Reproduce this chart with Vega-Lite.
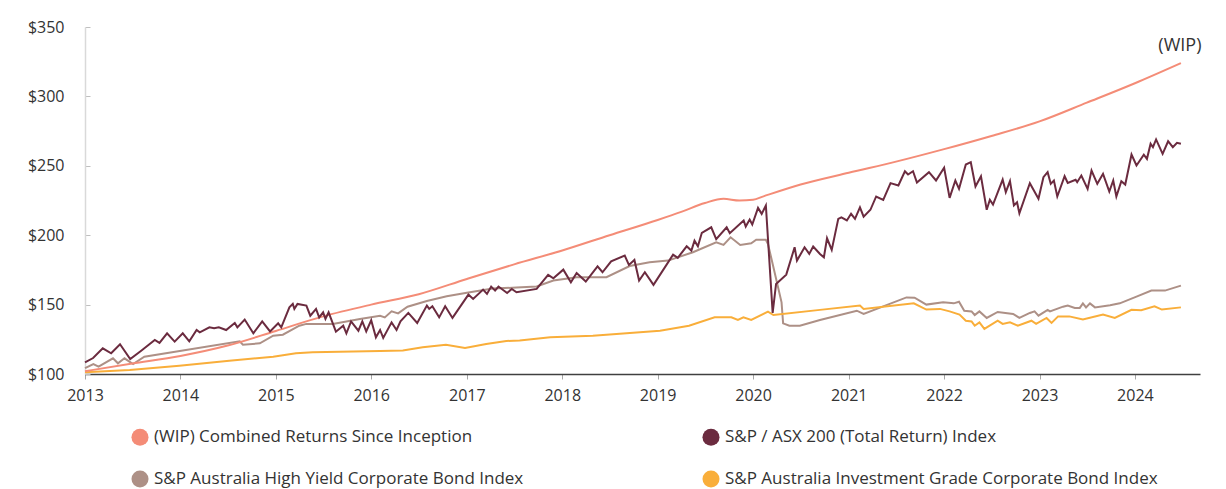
{
  "$schema": "https://vega.github.io/schema/vega-lite/v6.json",
  "width": 1115,
  "height": 347,
  "autosize": {"type": "none"},
  "padding": {"left": 85, "top": 27, "right": 26, "bottom": 115},
  "background": "white",
  "config": {
    "font": "Open Sans",
    "view": {"stroke": null},
    "axis": {"labelFont": "Open Sans", "labelFontSize": 16, "labelColor": "#333333", "grid": false, "title": null},
    "legend": {"labelFont": "Open Sans", "labelFontSize": 17, "labelColor": "#333333"}
  },
  "layer": [
    {
      "data": {"values": [
        {"date": "2013-01-01", "value": 104.3}, {"date": "2013-02-02", "value": 107.2}, {"date": "2013-02-22", "value": 105.3},
        {"date": "2013-04-18", "value": 111.3}, {"date": "2013-05-07", "value": 107.7}, {"date": "2013-06-01", "value": 111.3},
        {"date": "2013-07-04", "value": 107.2}, {"date": "2013-08-16", "value": 112.5}, {"date": "2014-08-16", "value": 123.5},
        {"date": "2014-08-28", "value": 121.1}, {"date": "2014-11-01", "value": 122.1}, {"date": "2014-12-22", "value": 127.6},
        {"date": "2015-01-28", "value": 128.3}, {"date": "2015-04-01", "value": 134.8}, {"date": "2015-04-28", "value": 136.1},
        {"date": "2015-08-07", "value": 136.1}, {"date": "2015-11-19", "value": 139.7}, {"date": "2016-02-04", "value": 142.0},
        {"date": "2016-02-22", "value": 140.8}, {"date": "2016-03-19", "value": 145.2}, {"date": "2016-04-13", "value": 143.7},
        {"date": "2016-05-19", "value": 148.5}, {"date": "2016-08-01", "value": 152.6}, {"date": "2016-10-16", "value": 156.0},
        {"date": "2017-01-01", "value": 158.6}, {"date": "2017-04-10", "value": 161.6}, {"date": "2017-07-10", "value": 162.3},
        {"date": "2017-09-25", "value": 163.0}, {"date": "2017-11-28", "value": 167.3}, {"date": "2018-02-25", "value": 169.7},
        {"date": "2018-06-19", "value": 169.7}, {"date": "2018-09-16", "value": 177.8}, {"date": "2018-12-01", "value": 180.5},
        {"date": "2019-02-10", "value": 181.7}, {"date": "2019-05-16", "value": 187.7}, {"date": "2019-08-13", "value": 194.9},
        {"date": "2019-09-10", "value": 193.0}, {"date": "2019-10-07", "value": 198.5}, {"date": "2019-11-13", "value": 193.0},
        {"date": "2019-12-25", "value": 194.2}, {"date": "2020-01-13", "value": 196.8}, {"date": "2020-02-19", "value": 196.7},
        {"date": "2020-02-27", "value": 193.7}, {"date": "2020-03-16", "value": 179.3}, {"date": "2020-04-19", "value": 151.6},
        {"date": "2020-04-25", "value": 136.5}, {"date": "2020-05-19", "value": 134.8}, {"date": "2020-06-28", "value": 134.8},
        {"date": "2020-09-13", "value": 138.9}, {"date": "2021-02-01", "value": 145.6}, {"date": "2021-02-27", "value": 143.3},
        {"date": "2021-08-10", "value": 155.2}, {"date": "2021-09-10", "value": 155.0}, {"date": "2021-10-25", "value": 150.0},
        {"date": "2021-12-28", "value": 151.6}, {"date": "2022-02-07", "value": 150.9}, {"date": "2022-02-27", "value": 152.1},
        {"date": "2022-03-19", "value": 145.6}, {"date": "2022-04-16", "value": 145.1}, {"date": "2022-04-28", "value": 142.5},
        {"date": "2022-05-16", "value": 145.1}, {"date": "2022-06-13", "value": 140.4}, {"date": "2022-07-25", "value": 144.7},
        {"date": "2022-09-22", "value": 143.3}, {"date": "2022-10-16", "value": 140.4}, {"date": "2022-11-25", "value": 144.0},
        {"date": "2022-12-13", "value": 145.1}, {"date": "2022-12-28", "value": 142.0}, {"date": "2023-02-01", "value": 146.2},
        {"date": "2023-02-10", "value": 145.1}, {"date": "2023-04-01", "value": 148.5}, {"date": "2023-04-19", "value": 149.3},
        {"date": "2023-05-16", "value": 147.6}, {"date": "2023-06-04", "value": 147.6}, {"date": "2023-06-16", "value": 150.9},
        {"date": "2023-06-28", "value": 148.0}, {"date": "2023-07-13", "value": 150.9}, {"date": "2023-08-01", "value": 148.0},
        {"date": "2023-09-28", "value": 149.5}, {"date": "2023-11-04", "value": 150.9}, {"date": "2024-01-07", "value": 155.7},
        {"date": "2024-03-04", "value": 160.1}, {"date": "2024-04-25", "value": 160.1}, {"date": "2024-06-25", "value": 163.7}
      ]},
      "mark": {"type": "line", "strokeWidth": 2},
      "encoding": {
        "x": {"field": "date", "type": "temporal",
          "scale": {"type": "utc", "domain": [{"year": 2013, "month": 1, "date": 1, "utc": true}, {"year": 2024, "month": 9, "date": 6, "utc": true}], "nice": false},
          "axis": {"format": "%Y", "tickCount": {"interval": "year", "step": 1}, "domainColor": "#404040", "domainWidth": 1.5, "tickColor": "#a6a6a6", "tickSize": 5, "labelPadding": 8, "labelFlush": false}},
        "y": {"field": "value", "type": "quantitative",
          "scale": {"domain": [100, 350], "nice": false, "zero": false},
          "axis": {"values": [100, 150, 200, 250, 300, 350], "format": "$d", "domainColor": "#d9d9d9", "domainWidth": 1.5, "tickColor": "#bfbfbf", "tickSize": -5, "labelPadding": 26}},
        "color": {"datum": "S&P Australia High Yield Corporate Bond Index", "type": "nominal",
          "scale": {"domain": ["(WIP) Combined Returns Since Inception", "S&P / ASX 200 (Total Return) Index", "S&P Australia High Yield Corporate Bond Index", "S&P Australia Investment Grade Corporate Bond Index"],
                    "range": ["#F48C77", "#6B2B3F", "#AD9086", "#F9AE3A"]},
          "legend": {"orient": "none", "legendX": 46, "legendY": 401, "direction": "horizontal", "columns": 2, "title": null, "symbolType": "circle", "symbolSize": 290, "symbolStrokeWidth": 0, "symbolOpacity": 1, "labelOffset": 5, "columnPadding": 178, "rowPadding": 24, "padding": 0, "labelLimit": 600,
            "encode": {"symbols": {"update": {"fill": {"scale": "color", "field": "value"}, "fillOpacity": {"value": 1}, "strokeWidth": {"value": 0}}}}}}
      }
    },
    {
      "data": {"values": [
        {"date": "2013-01-01", "value": 101.2}, {"date": "2013-06-21", "value": 102.9}, {"date": "2013-12-28", "value": 106.0},
        {"date": "2014-07-07", "value": 109.6}, {"date": "2014-12-22", "value": 112.5}, {"date": "2015-03-19", "value": 114.9},
        {"date": "2015-05-22", "value": 115.6}, {"date": "2016-02-04", "value": 116.6}, {"date": "2016-05-01", "value": 117.0},
        {"date": "2016-07-16", "value": 119.2}, {"date": "2016-10-13", "value": 121.1}, {"date": "2016-12-25", "value": 118.7},
        {"date": "2017-03-16", "value": 121.6}, {"date": "2017-06-01", "value": 123.8}, {"date": "2017-07-22", "value": 124.2},
        {"date": "2017-11-16", "value": 126.4}, {"date": "2018-04-28", "value": 127.6}, {"date": "2018-09-04", "value": 129.3},
        {"date": "2019-01-10", "value": 131.2}, {"date": "2019-05-01", "value": 134.8}, {"date": "2019-08-07", "value": 140.8},
        {"date": "2019-10-10", "value": 140.8}, {"date": "2019-11-04", "value": 138.9}, {"date": "2019-11-25", "value": 140.8},
        {"date": "2019-12-25", "value": 138.9}, {"date": "2020-02-27", "value": 144.9}, {"date": "2020-03-19", "value": 142.5},
        {"date": "2020-09-13", "value": 146.2}, {"date": "2021-02-13", "value": 149.3}, {"date": "2021-02-27", "value": 146.9},
        {"date": "2021-09-07", "value": 150.9}, {"date": "2021-10-25", "value": 146.4}, {"date": "2021-12-16", "value": 146.9},
        {"date": "2022-01-22", "value": 145.1}, {"date": "2022-03-01", "value": 142.8}, {"date": "2022-03-25", "value": 138.4},
        {"date": "2022-04-16", "value": 137.9}, {"date": "2022-04-28", "value": 134.8}, {"date": "2022-05-16", "value": 137.2},
        {"date": "2022-06-04", "value": 132.5}, {"date": "2022-07-25", "value": 138.4}, {"date": "2022-08-13", "value": 136.1},
        {"date": "2022-09-10", "value": 137.2}, {"date": "2022-10-10", "value": 134.8}, {"date": "2022-12-01", "value": 138.4},
        {"date": "2022-12-19", "value": 136.1}, {"date": "2023-01-28", "value": 140.4}, {"date": "2023-02-16", "value": 136.8},
        {"date": "2023-03-13", "value": 141.5}, {"date": "2023-04-25", "value": 141.5}, {"date": "2023-06-16", "value": 139.2},
        {"date": "2023-09-01", "value": 142.8}, {"date": "2023-10-16", "value": 140.4}, {"date": "2023-12-19", "value": 146.2},
        {"date": "2024-01-25", "value": 146.0}, {"date": "2024-03-16", "value": 148.7}, {"date": "2024-04-13", "value": 146.4},
        {"date": "2024-06-25", "value": 148.0}
      ]},
      "mark": {"type": "line", "strokeWidth": 2},
      "encoding": {
        "x": {"field": "date", "type": "temporal"},
        "y": {"field": "value", "type": "quantitative"},
        "color": {"datum": "S&P Australia Investment Grade Corporate Bond Index", "type": "nominal"}
      }
    },
    {
      "data": {"values": [
        {"date": "2013-01-01", "value": 102.0}, {"date": "2013-07-01", "value": 107.5}, {"date": "2014-01-01", "value": 113.0},
        {"date": "2014-07-01", "value": 120.5}, {"date": "2015-01-01", "value": 131.0}, {"date": "2015-07-01", "value": 141.5},
        {"date": "2016-01-01", "value": 150.0}, {"date": "2016-07-01", "value": 157.5}, {"date": "2017-01-01", "value": 168.5},
        {"date": "2017-07-01", "value": 179.0}, {"date": "2018-01-01", "value": 189.0}, {"date": "2018-07-01", "value": 200.0},
        {"date": "2019-01-01", "value": 211.0}, {"date": "2019-04-01", "value": 216.8}, {"date": "2019-07-01", "value": 223.2},
        {"date": "2019-09-10", "value": 226.2}, {"date": "2019-11-10", "value": 225.0}, {"date": "2020-01-01", "value": 225.5},
        {"date": "2020-02-10", "value": 228.0}, {"date": "2020-07-01", "value": 236.5}, {"date": "2021-01-01", "value": 245.0},
        {"date": "2021-07-01", "value": 253.0}, {"date": "2022-01-01", "value": 262.0}, {"date": "2022-07-01", "value": 271.5},
        {"date": "2023-01-01", "value": 282.0}, {"date": "2023-07-01", "value": 295.5}, {"date": "2024-01-01", "value": 309.5},
        {"date": "2024-06-25", "value": 324.0}
      ]},
      "mark": {"type": "line", "strokeWidth": 2, "interpolate": "monotone"},
      "encoding": {
        "x": {"field": "date", "type": "temporal"},
        "y": {"field": "value", "type": "quantitative"},
        "color": {"datum": "(WIP) Combined Returns Since Inception", "type": "nominal"}
      }
    },
    {
      "data": {"values": [
        {"date": "2013-01-01", "value": 108.4}, {"date": "2013-02-01", "value": 111.5}, {"date": "2013-03-10", "value": 118.5},
        {"date": "2013-04-11", "value": 114.9}, {"date": "2013-05-15", "value": 121.4}, {"date": "2013-06-23", "value": 110.8},
        {"date": "2013-08-04", "value": 116.8}, {"date": "2013-09-25", "value": 124.5}, {"date": "2013-10-13", "value": 122.4},
        {"date": "2013-11-11", "value": 129.3}, {"date": "2013-12-10", "value": 123.3}, {"date": "2014-01-10", "value": 129.3},
        {"date": "2014-02-04", "value": 123.5}, {"date": "2014-03-04", "value": 131.7}, {"date": "2014-03-16", "value": 130.0},
        {"date": "2014-04-22", "value": 133.6}, {"date": "2014-05-10", "value": 132.9}, {"date": "2014-05-28", "value": 133.6},
        {"date": "2014-06-25", "value": 131.7}, {"date": "2014-07-28", "value": 136.8}, {"date": "2014-08-07", "value": 133.6},
        {"date": "2014-09-04", "value": 139.2}, {"date": "2014-10-07", "value": 129.3}, {"date": "2014-11-10", "value": 137.9},
        {"date": "2014-12-10", "value": 130.7}, {"date": "2015-01-10", "value": 136.5}, {"date": "2015-01-22", "value": 133.6},
        {"date": "2015-02-22", "value": 148.0}, {"date": "2015-03-07", "value": 150.5}, {"date": "2015-03-13", "value": 146.9},
        {"date": "2015-03-25", "value": 150.5}, {"date": "2015-04-28", "value": 149.3}, {"date": "2015-05-13", "value": 142.0},
        {"date": "2015-06-04", "value": 146.9}, {"date": "2015-06-16", "value": 140.8}, {"date": "2015-07-01", "value": 144.4},
        {"date": "2015-07-10", "value": 139.7}, {"date": "2015-07-22", "value": 144.4}, {"date": "2015-08-19", "value": 130.5},
        {"date": "2015-09-16", "value": 134.8}, {"date": "2015-09-28", "value": 129.3}, {"date": "2015-10-16", "value": 137.9},
        {"date": "2015-11-13", "value": 131.2}, {"date": "2015-11-28", "value": 137.9}, {"date": "2015-12-13", "value": 130.7},
        {"date": "2016-01-01", "value": 138.7}, {"date": "2016-01-19", "value": 126.4}, {"date": "2016-02-04", "value": 131.7},
        {"date": "2016-02-16", "value": 126.0}, {"date": "2016-03-19", "value": 137.2}, {"date": "2016-04-07", "value": 131.7},
        {"date": "2016-04-22", "value": 138.0}, {"date": "2016-05-22", "value": 144.0}, {"date": "2016-06-25", "value": 136.8},
        {"date": "2016-08-01", "value": 149.3}, {"date": "2016-08-10", "value": 146.9}, {"date": "2016-08-22", "value": 148.8},
        {"date": "2016-09-17", "value": 140.8}, {"date": "2016-10-10", "value": 148.8}, {"date": "2016-11-07", "value": 140.4},
        {"date": "2017-01-07", "value": 157.2}, {"date": "2017-01-25", "value": 154.1}, {"date": "2017-03-04", "value": 160.8},
        {"date": "2017-03-19", "value": 157.7}, {"date": "2017-04-04", "value": 163.0}, {"date": "2017-04-19", "value": 160.1},
        {"date": "2017-05-02", "value": 163.0}, {"date": "2017-06-04", "value": 158.4}, {"date": "2017-06-22", "value": 161.3},
        {"date": "2017-07-10", "value": 158.9}, {"date": "2017-09-25", "value": 161.3}, {"date": "2017-11-08", "value": 171.4},
        {"date": "2017-11-28", "value": 169.0}, {"date": "2018-01-05", "value": 175.2}, {"date": "2018-02-03", "value": 166.1},
        {"date": "2018-02-25", "value": 172.8}, {"date": "2018-04-01", "value": 166.6}, {"date": "2018-05-16", "value": 177.6},
        {"date": "2018-06-04", "value": 173.3}, {"date": "2018-07-07", "value": 181.2}, {"date": "2018-08-28", "value": 185.3},
        {"date": "2018-09-13", "value": 178.6}, {"date": "2018-10-04", "value": 182.2}, {"date": "2018-10-22", "value": 167.3},
        {"date": "2018-11-13", "value": 173.3}, {"date": "2018-12-16", "value": 164.2}, {"date": "2019-03-01", "value": 186.0},
        {"date": "2019-03-19", "value": 183.7}, {"date": "2019-04-22", "value": 192.0}, {"date": "2019-05-10", "value": 188.9},
        {"date": "2019-05-22", "value": 196.1}, {"date": "2019-06-04", "value": 192.0}, {"date": "2019-06-19", "value": 201.7},
        {"date": "2019-07-25", "value": 205.7}, {"date": "2019-08-13", "value": 197.1}, {"date": "2019-09-22", "value": 205.7},
        {"date": "2019-10-04", "value": 201.4}, {"date": "2019-11-26", "value": 210.6}, {"date": "2019-12-04", "value": 206.2},
        {"date": "2019-12-19", "value": 211.3}, {"date": "2019-12-29", "value": 207.7}, {"date": "2020-01-20", "value": 219.7},
        {"date": "2020-02-03", "value": 215.4}, {"date": "2020-02-19", "value": 221.4}, {"date": "2020-03-16", "value": 144.0},
        {"date": "2020-03-29", "value": 164.9}, {"date": "2020-05-07", "value": 171.6}, {"date": "2020-06-08", "value": 191.3},
        {"date": "2020-06-17", "value": 181.7}, {"date": "2020-07-16", "value": 191.3}, {"date": "2020-08-03", "value": 186.5},
        {"date": "2020-08-18", "value": 191.8}, {"date": "2020-09-13", "value": 186.5}, {"date": "2020-09-28", "value": 184.1},
        {"date": "2020-10-10", "value": 197.8}, {"date": "2020-10-28", "value": 189.4}, {"date": "2020-11-22", "value": 211.8},
        {"date": "2020-12-04", "value": 212.9}, {"date": "2020-12-25", "value": 210.6}, {"date": "2021-01-10", "value": 215.4},
        {"date": "2021-01-25", "value": 211.8}, {"date": "2021-02-13", "value": 220.1}, {"date": "2021-02-27", "value": 213.4},
        {"date": "2021-03-25", "value": 218.3}, {"date": "2021-04-16", "value": 227.9}, {"date": "2021-05-13", "value": 225.5},
        {"date": "2021-06-10", "value": 237.5}, {"date": "2021-07-10", "value": 235.8}, {"date": "2021-08-04", "value": 246.1},
        {"date": "2021-08-16", "value": 243.7}, {"date": "2021-09-04", "value": 246.1}, {"date": "2021-09-19", "value": 238.0},
        {"date": "2021-11-04", "value": 245.4}, {"date": "2021-12-01", "value": 239.4}, {"date": "2022-01-01", "value": 248.6},
        {"date": "2022-01-22", "value": 226.9}, {"date": "2022-02-13", "value": 239.4}, {"date": "2022-02-27", "value": 233.4},
        {"date": "2022-03-25", "value": 250.9}, {"date": "2022-04-13", "value": 252.6}, {"date": "2022-05-01", "value": 235.1},
        {"date": "2022-05-22", "value": 242.5}, {"date": "2022-06-13", "value": 218.3}, {"date": "2022-06-25", "value": 225.5},
        {"date": "2022-07-07", "value": 222.1}, {"date": "2022-08-13", "value": 240.1}, {"date": "2022-08-25", "value": 231.0},
        {"date": "2022-09-10", "value": 238.9}, {"date": "2022-09-25", "value": 221.4}, {"date": "2022-10-07", "value": 223.7},
        {"date": "2022-10-16", "value": 215.8}, {"date": "2022-11-25", "value": 237.5}, {"date": "2022-12-28", "value": 226.2},
        {"date": "2023-01-16", "value": 241.8}, {"date": "2023-02-01", "value": 245.4}, {"date": "2023-02-13", "value": 237.0},
        {"date": "2023-02-25", "value": 239.4}, {"date": "2023-03-10", "value": 227.9}, {"date": "2023-04-07", "value": 242.5},
        {"date": "2023-04-19", "value": 237.7}, {"date": "2023-05-19", "value": 239.9}, {"date": "2023-05-25", "value": 238.2},
        {"date": "2023-06-10", "value": 243.0}, {"date": "2023-07-04", "value": 233.4}, {"date": "2023-07-19", "value": 246.6},
        {"date": "2023-08-10", "value": 237.0}, {"date": "2023-09-01", "value": 244.2}, {"date": "2023-09-25", "value": 231.5},
        {"date": "2023-10-10", "value": 239.4}, {"date": "2023-10-22", "value": 227.9}, {"date": "2023-11-10", "value": 238.9},
        {"date": "2023-11-25", "value": 236.5}, {"date": "2023-12-19", "value": 258.1}, {"date": "2024-01-07", "value": 250.2},
        {"date": "2024-02-04", "value": 258.0}, {"date": "2024-02-16", "value": 255.0}, {"date": "2024-03-01", "value": 265.9},
        {"date": "2024-03-10", "value": 263.4}, {"date": "2024-03-22", "value": 269.0}, {"date": "2024-04-16", "value": 258.6},
        {"date": "2024-05-07", "value": 267.7}, {"date": "2024-05-25", "value": 263.4}, {"date": "2024-06-10", "value": 266.6},
        {"date": "2024-06-25", "value": 265.9}
      ]},
      "mark": {"type": "line", "strokeWidth": 2},
      "encoding": {
        "x": {"field": "date", "type": "temporal"},
        "y": {"field": "value", "type": "quantitative"},
        "color": {"datum": "S&P / ASX 200 (Total Return) Index", "type": "nominal"}
      }
    },
    {
      "data": {"values": [{"date": "2024-06-25", "value": 324.0, "label": "(WIP)"}]},
      "mark": {"type": "text", "fontSize": 18, "color": "#333333", "dy": -17, "dx": -1, "align": "center", "baseline": "middle"},
      "encoding": {
        "x": {"field": "date", "type": "temporal"},
        "y": {"field": "value", "type": "quantitative"},
        "text": {"field": "label"}
      }
    }
  ]
}
